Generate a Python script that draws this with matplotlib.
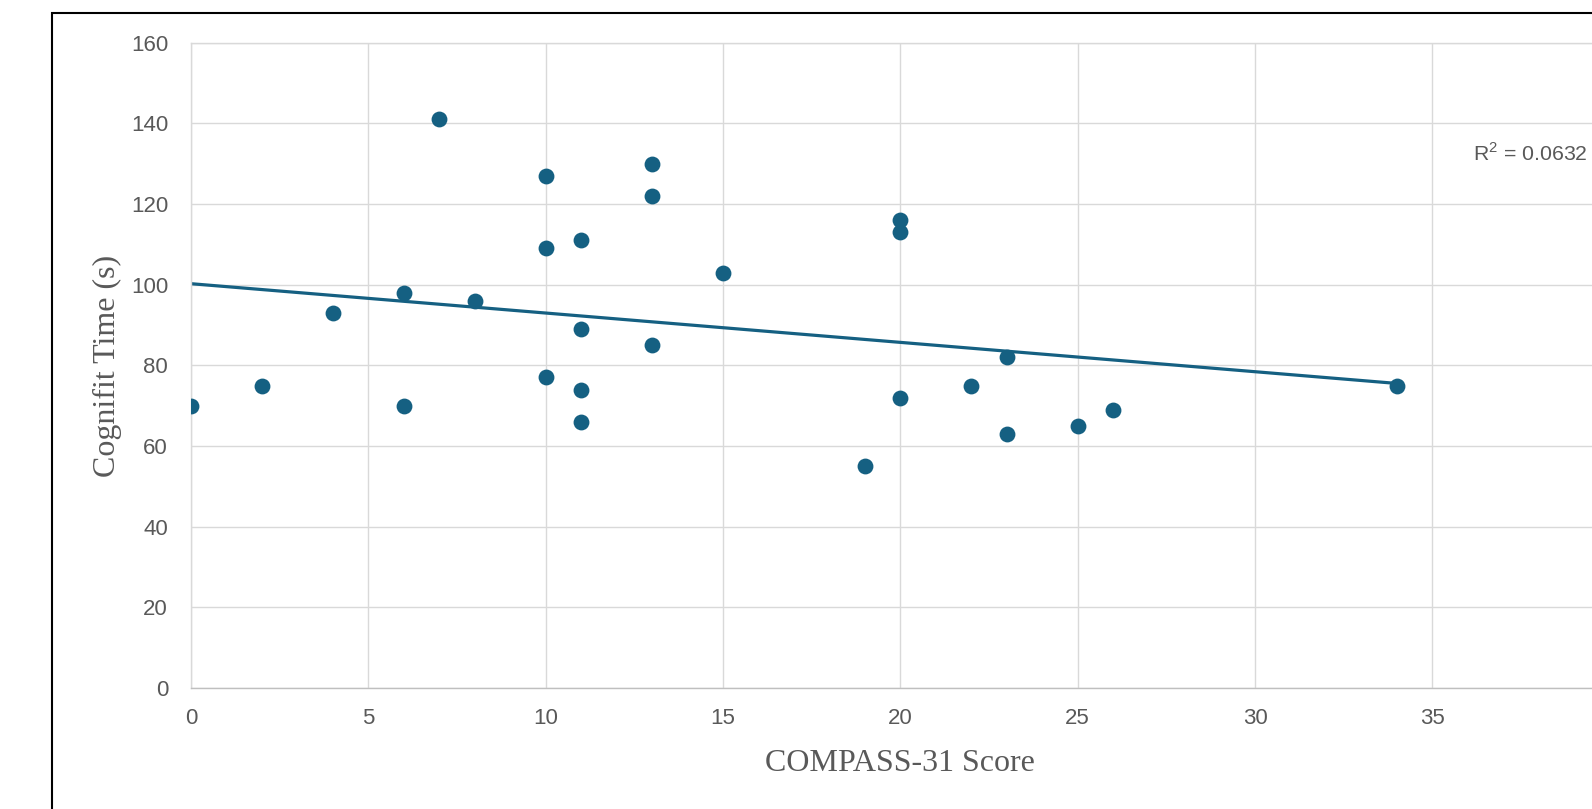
import numpy as np
import matplotlib
matplotlib.use('Agg')
import matplotlib.pyplot as plt
from matplotlib.patches import Rectangle

# COMPASS-31 score vs Cognifit time, one point per participant
compass_score = [0, 2, 4, 6, 6, 7, 8, 10, 10, 10, 11, 11, 11, 11,
                 13, 13, 13, 15, 19, 20, 20, 20, 22, 23, 23, 25, 26, 34]
cognifit_time = [70, 75, 93, 98, 70, 141, 96, 127, 109, 77, 111, 89, 74, 66,
                 130, 122, 85, 103, 55, 116, 113, 72, 75, 82, 63, 65, 69, 75]
r_squared_label = 'R$^{2}$ = 0.0632'

x_ticks = [0, 5, 10, 15, 20, 25, 30, 35]
y_ticks = [0, 20, 40, 60, 80, 100, 120, 140, 160]

accent = '#156082'
grey_text = '#595959'
grid_col = '#D9D9D9'

plt.rcParams['font.family'] = ['Liberation Sans', 'DejaVu Sans']
plt.rcParams['mathtext.fontset'] = 'custom'
plt.rcParams['mathtext.rm'] = 'Liberation Sans'

W, H = 1592, 809
fig = plt.figure(figsize=(W / 100, H / 100), dpi=100)

# plot area runs past the right edge of the figure (x axis goes to 40)
left, right, top, bottom = 191, 1609.8, 42.7, 688
ax = fig.add_axes((left / W, 1 - bottom / H, (right - left) / W, (bottom - top) / H))

ax.set_xlim(0, 40)
ax.set_ylim(0, 160)
ax.set_xticks(x_ticks)
ax.set_yticks(y_ticks)
ax.tick_params(length=0, labelsize=16, labelcolor=grey_text)
ax.tick_params(axis='x', pad=14.5)
ax.tick_params(axis='y', pad=16.5)
ax.grid(True, color=grid_col, linewidth=1.0, zorder=0)
ax.set_axisbelow(True)
for side in ['left', 'top']:
    ax.spines[side].set_color(grid_col)
    ax.spines[side].set_linewidth(1.0)
ax.spines['right'].set_visible(False)
ax.spines['bottom'].set_color('#BFBFBF')
ax.spines['bottom'].set_linewidth(1.0)

# linear trendline over the data range
x = np.array(compass_score, dtype=float)
y = np.array(cognifit_time, dtype=float)
slope, intercept = np.polyfit(x, y, 1)
xs = np.array([x.min(), x.max()])
ax.plot(xs, slope * xs + intercept, color=accent, linewidth=2.3, zorder=2,
        solid_capstyle='butt')

ax.scatter(compass_score, cognifit_time, s=130, color=accent, linewidths=0, zorder=3)

ax.text(36.14, 130.7, r_squared_label, fontsize=15.3, color=grey_text,
        ha='left', va='baseline')

# axis titles in serif
fig.text(900 / W, 1 - 771 / H, 'COMPASS-31 Score', family='Liberation Serif',
         fontsize=23, color=grey_text, ha='center', va='baseline')
fig.text(115 / W, 1 - 365.5 / H, 'Cognifit Time (s)', family='Liberation Serif',
         fontsize=23, color=grey_text, ha='center', va='baseline',
         rotation=90, rotation_mode='anchor')

# black frame around the chart
fig.patches.append(Rectangle((52 / W, -0.1), 2, 1.1 - 13.3 / H, fill=False,
                             edgecolor='black', linewidth=1.5,
                             transform=fig.transFigure, figure=fig))

fig.savefig('out.png', dpi=100)
